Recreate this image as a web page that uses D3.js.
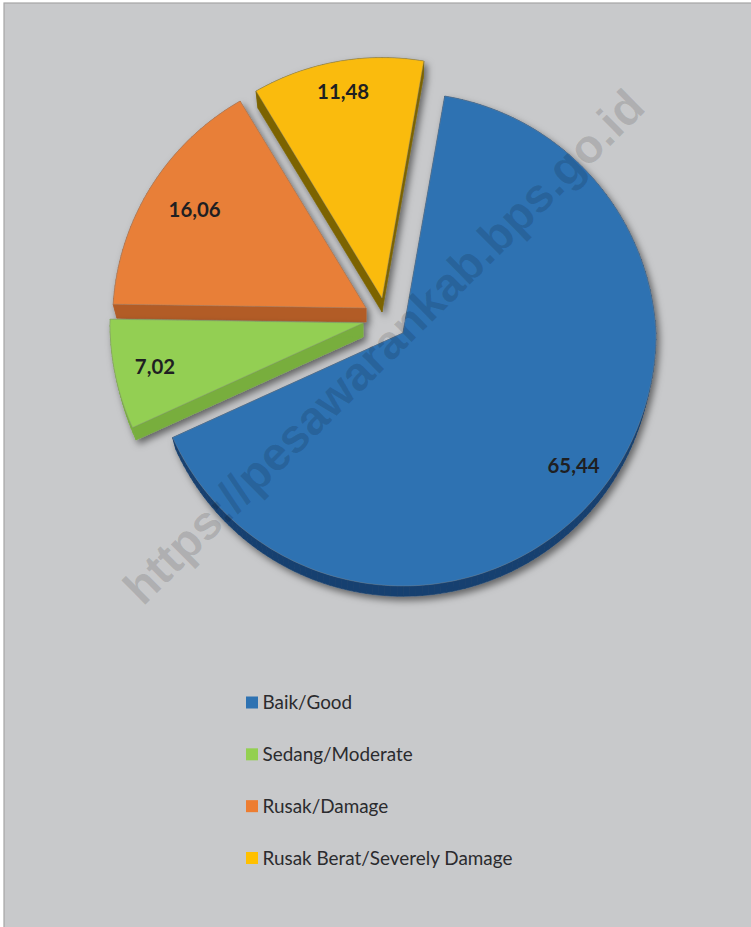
<!DOCTYPE html>
<html><head><meta charset="utf-8">
<script src="https://cdn.jsdelivr.net/npm/d3@7"></script>
<style>html,body{margin:0;padding:0;background:#fff}svg{display:block}</style>
</head><body><svg id="c" width="751" height="927"></svg>
<script>
const categories = ["Baik/Good","Sedang/Moderate","Rusak/Damage","Rusak Berat/Severely Damage"];
const values = [65.44,7.02,16.06,11.48];
const valueLabels = ["65,44","7,02","16,06","11,48"];
const topColors = ["#2E72B2","#93CF52","#E87F37","#FABB0C"];
const sideColors = ["#16406F","#78AE3E","#B25C27","#7C6400"];
const legendColors = ["#2E72B2","#93D050","#ED7D31","#FFC000"];
const apexes = [[403,333],[363,323],[366,308],[382,298]];
const labelFractions = [0.853,0.84,0.80,0.873];
const watermark = "https://pesawarankab.bps.go.id";

const R = 253, depth = 14, shrink = 0.985;
const svg = d3.select("#c");
const defs = svg.append("defs");
const f = defs.append("filter").attr("id","sh").attr("x","-20%").attr("y","-20%").attr("width","140%").attr("height","140%");
f.append("feDropShadow").attr("dx",3).attr("dy",4).attr("stdDeviation",3.5).attr("flood-color","#000").attr("flood-opacity",0.5);

svg.append("rect").attr("x",4).attr("y",3).attr("width",760).attr("height",940)
  .attr("fill","#C8C9CB").attr("stroke","#A6A6A6").attr("stroke-width",1.2);

const pie = d3.pie().sort(null).startAngle(10*Math.PI/180).endAngle(370*Math.PI/180);
const arcs = pie(values);
// tilted projection: the far side of the disc is slightly foreshortened
const radial = a => 1 - 0.05*Math.max(0,Math.cos(a));
const project = (apex,a,r) => [apex[0]+r*radial(a)*Math.sin(a), apex[1]-r*radial(a)*Math.cos(a)];
const outline = (d,apex,r) => {
  const n = Math.max(12,Math.ceil((d.endAngle-d.startAngle)*40));
  const pts = [apex];
  d3.range(n+1).forEach(k => pts.push(project(apex,d.startAngle+(d.endAngle-d.startAngle)*k/n,r)));
  return pts;
};
const line = d3.line().curve(d3.curveLinearClosed);

const order = [0,2,1,3];
order.forEach(i => {
  const d = arcs[i], apex = apexes[i];
  const low = [apex[0],apex[1]+depth];
  const top = outline(d,apex,R), bot = outline(d,low,R*shrink);
  const g = svg.append("g").attr("filter","url(#sh)");
  top.forEach((p,k) => {
    const q = top[(k+1)%top.length], s = bot[(k+1)%top.length], t = bot[k];
    g.append("path").attr("d",line([p,q,s,t])).attr("fill",sideColors[i]).attr("stroke",sideColors[i]).attr("stroke-width",0.6);
  });
  g.append("path").attr("d",line(top)).attr("fill",topColors[i]).attr("stroke","#8a8a8a").attr("stroke-opacity",0.45).attr("stroke-width",0.8);
});

arcs.forEach((d,i) => {
  const mid = (d.startAngle+d.endAngle)/2;
  const p = project(apexes[i],mid,R*labelFractions[i]);
  svg.append("text").attr("x",p[0]).attr("y",p[1]).attr("text-anchor","middle").attr("dy","0.36em")
    .attr("font-family","Lato").attr("font-weight",700).attr("font-size",20.4).attr("fill","#1f1f22").text(valueLabels[i]);
});

const ly = d3.scalePoint().domain(categories).range([702.5,858]);
categories.forEach((c,i) => {
  svg.append("rect").attr("x",246).attr("y",ly(c)-6).attr("width",12).attr("height",12).attr("fill",legendColors[i]);
  svg.append("text").attr("x",262.5).attr("y",ly(c)).attr("dy","0.36em")
    .attr("font-family","Lato").attr("font-size",18.9).attr("fill","#2b2b2e").text(c);
});

svg.append("text").attr("transform","translate(143,607) rotate(-44.6)")
  .attr("font-family","Liberation Sans").attr("font-weight",700).attr("font-size",47.4)
  .attr("fill","#000").attr("fill-opacity",0.13).text(watermark);
</script></body></html>
